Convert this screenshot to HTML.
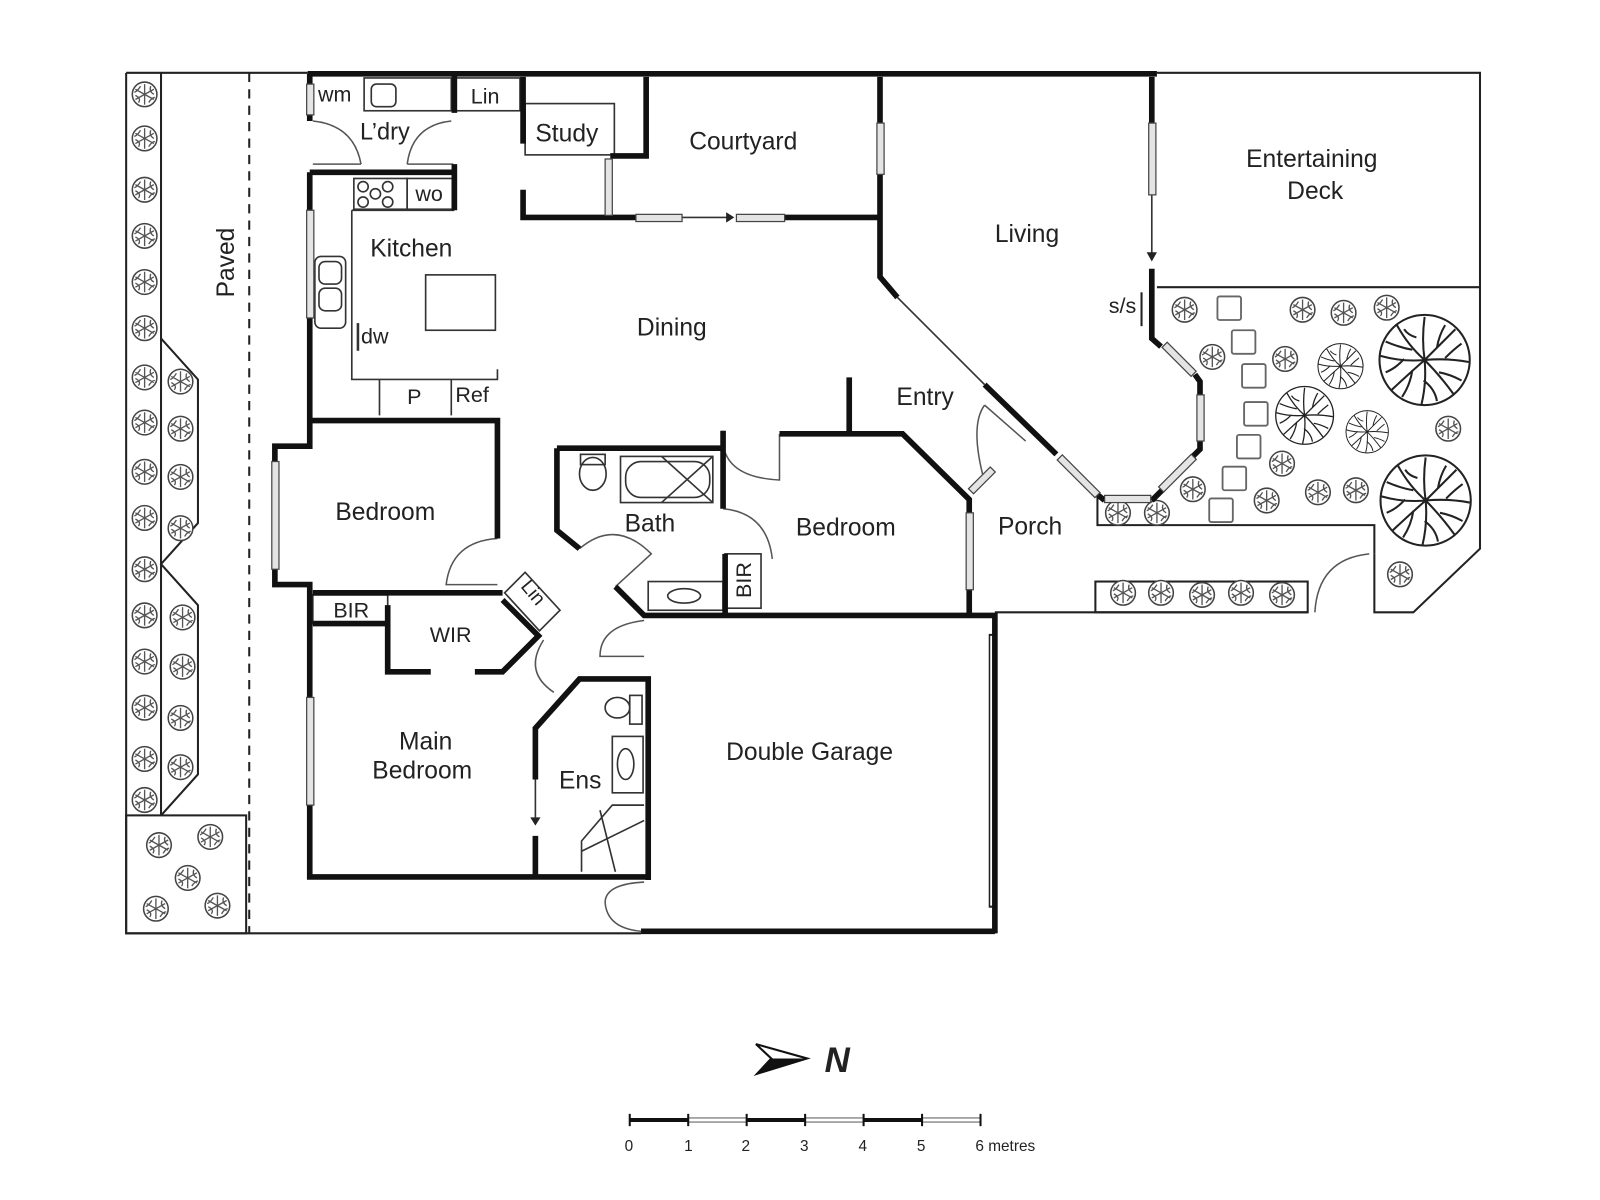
<!DOCTYPE html>
<html><head><meta charset="utf-8"><style>
html,body{margin:0;padding:0;background:#fff;}
svg{display:block;}
text{font-family:"Liberation Sans",sans-serif;fill:#222;}
</style></head><body>
<svg width="1600" height="1200" viewBox="0 0 1560 1170" xmlns="http://www.w3.org/2000/svg">
<defs>
<g id="t">
<circle r="12" fill="#fff" stroke="#444" stroke-width="1.5"/>
<g stroke="#555" stroke-width="1.3" fill="none">
<path d="M0 0 L0 -10 M0 0 L9 -5 M0 0 L9 5 M0 0 L0 10 M0 0 L-9 5 M0 0 L-9 -5 M-4 -8 Q-7 -3 -10 -2 M6 -8 Q4 -3 9 0 M4 8 Q7 3 10 3 M-6 8 Q-3 4 -9 1"/>
</g>
</g>
<g id="T">
<circle r="44" fill="#fff" stroke="#222" stroke-width="2"/>
<g stroke="#222" stroke-width="2" fill="none">
<path d="M0 0 Q-3 -20 0 -42 M0 0 Q15 -15 30 -30 M0 0 Q22 -2 43 2 M0 0 Q15 15 28 33 M0 0 Q2 22 -3 43 M0 0 Q-16 14 -32 29 M0 0 Q-22 2 -43 -4 M0 0 Q-16 -14 -27 -34 M-8 -22 Q-16 -24 -20 -30 M12 -12 Q14 -24 20 -34 M20 -2 Q28 -10 36 -16 M14 12 Q25 14 36 20 M-1 20 Q10 28 12 40 M-12 10 Q-14 24 -22 36 M-20 -1 Q-28 8 -38 12 M-12 -10 Q-24 -12 -38 -18"/>
</g>
</g>
</defs>

<g fill="none" stroke="#222" stroke-width="2">
<path d="M1128 71 L1443 71 L1443 535 L1378 597 L1340 597 L1340 540"/>
<path d="M123 71 L300 71 M123 71 L123 910 L625 910"/>
<line x1="157" y1="71" x2="157" y2="795"/>
<line x1="243" y1="71" x2="243" y2="910" stroke-dasharray="9,7"/>
<path d="M157 330 L193 370 L193 510 L157 550 L193 590 L193 755 L157 795"/>
<rect x="123" y="795" width="117" height="115"/>
<path d="M1128 280 L1443 280"/>
<path d="M1070 485 L1070 512 L1340 512 L1340 540"/>
<path d="M970 597 L1275 597"/>
<rect x="1068" y="567" width="207" height="30"/>
</g>

<g>
<use href="#t" x="141" y="92"/><use href="#t" x="141" y="135"/><use href="#t" x="141" y="185"/><use href="#t" x="141" y="230"/><use href="#t" x="141" y="275"/><use href="#t" x="141" y="320"/><use href="#t" x="141" y="368"/><use href="#t" x="141" y="412"/><use href="#t" x="141" y="460"/><use href="#t" x="141" y="505"/><use href="#t" x="141" y="555"/><use href="#t" x="141" y="600"/><use href="#t" x="141" y="645"/><use href="#t" x="141" y="690"/><use href="#t" x="141" y="740"/><use href="#t" x="141" y="780"/>
<use href="#t" x="176" y="372"/><use href="#t" x="176" y="418"/><use href="#t" x="176" y="465"/><use href="#t" x="176" y="515"/><use href="#t" x="178" y="602"/><use href="#t" x="178" y="650"/><use href="#t" x="176" y="700"/><use href="#t" x="176" y="748"/>
<use href="#t" x="155" y="824"/><use href="#t" x="205" y="816"/><use href="#t" x="183" y="856"/><use href="#t" x="152" y="886"/><use href="#t" x="212" y="883"/>
<use href="#t" x="1155" y="302"/><use href="#t" x="1270" y="302"/><use href="#t" x="1310" y="305"/><use href="#t" x="1352" y="300"/><use href="#t" x="1182" y="348"/><use href="#t" x="1253" y="350"/><use href="#t" x="1412" y="418"/><use href="#t" x="1250" y="452"/><use href="#t" x="1163" y="477"/><use href="#t" x="1235" y="488"/><use href="#t" x="1285" y="480"/><use href="#t" x="1322" y="478"/><use href="#t" x="1090" y="500"/><use href="#t" x="1128" y="500"/><use href="#t" x="1365" y="560"/>
<use href="#t" x="1095" y="578"/><use href="#t" x="1132" y="578"/><use href="#t" x="1172" y="580"/><use href="#t" x="1210" y="578"/><use href="#t" x="1250" y="580"/>
<use href="#T" x="1389" y="351"/><use href="#T" x="1390" y="488"/>
<use href="#T" x="0" y="0" transform="translate(1272 405) scale(0.64)"/>
<use href="#T" x="0" y="0" transform="translate(1307 357) scale(0.5)"/>
<use href="#T" x="0" y="0" transform="translate(1333 421) scale(0.47)"/>
</g>
<g fill="#fff" stroke="#666" stroke-width="1.8">
<rect x="1187" y="289" width="23" height="23" rx="2"/><rect x="1201" y="322" width="23" height="23" rx="2"/><rect x="1211" y="355" width="23" height="23" rx="2"/><rect x="1213" y="392" width="23" height="23" rx="2"/><rect x="1206" y="424" width="23" height="23" rx="2"/><rect x="1192" y="455" width="23" height="23" rx="2"/><rect x="1179" y="486" width="23" height="23" rx="2"/>
</g>

<g fill="none" stroke="#333" stroke-width="1.6">
<rect x="355" y="76" width="85" height="32"/>
<rect x="362" y="82" width="24" height="22" rx="5"/>
<rect x="443" y="76" width="64" height="32"/>
<rect x="512" y="101" width="87" height="50"/>
<rect x="345" y="174" width="52" height="30"/>
<circle cx="354" cy="182" r="5"/><circle cx="366" cy="189" r="5"/><circle cx="378" cy="182" r="5"/><circle cx="354" cy="197" r="5"/><circle cx="378" cy="197" r="5"/>
<rect x="397" y="174" width="44" height="30"/>
<path d="M343 205 L443 205 M343 205 L343 370 L485 370 L485 360"/>
<rect x="307" y="250" width="30" height="70" rx="6"/>
<rect x="311" y="255" width="22" height="22" rx="6"/><rect x="311" y="281" width="22" height="22" rx="6"/>
<rect x="415" y="268" width="68" height="54"/>
<path d="M370 370 L370 405 M440 370 L440 405"/>
<line x1="349" y1="315" x2="349" y2="342" stroke-width="2.5"/>
<rect x="305" y="580" width="73" height="28"/>
<polygon points="492,578 512,558 546,595 526,615" fill="#fff"/>
<rect x="605" y="445" width="90" height="45"/>
<rect x="610" y="450" width="82" height="35" rx="15"/>
<path d="M645 445 L695 490 M695 445 L645 490"/>
<ellipse cx="578" cy="462" rx="13" ry="16"/>
<rect x="566" y="443" width="24" height="10"/>
<rect x="632" y="567" width="73" height="28"/>
<ellipse cx="667" cy="581" rx="16" ry="7"/>
<rect x="707" y="540" width="35" height="53"/>
<rect x="597" y="718" width="30" height="55"/>
<ellipse cx="610" cy="745" rx="8" ry="15"/>
<ellipse cx="602" cy="690" rx="12" ry="10"/>
<rect x="614" y="678" width="12" height="28"/>
<path d="M567 850 L567 820 L597 785 L628 785 M567 830 L628 800 M585 790 L600 850"/>
<line x1="967" y1="618" x2="967" y2="885" stroke-width="6" stroke="#222"/>
<line x1="967" y1="620" x2="967" y2="883" stroke-width="3" stroke="#fff"/>
<path d="M875 290 L960 375"/>
<path d="M1123 190 L1123 248"/>
<path d="M665 212 L712 212"/>
<path d="M522 760 L522 797"/>
</g>
<path d="M1118 246 L1128 246 L1123 255Z M708 207 L716 212 L708 217Z M517 797 L527 797 L522 805Z" fill="#222"/>

<g fill="none" stroke="#555" stroke-width="1.5">
<path d="M305 118 Q345 122 352 160 M305 160 L352 160"/>
<path d="M440 118 Q402 122 397 160 M397 160 L442 160"/>
<path d="M485 525 Q440 528 435 570 L485 570"/>
<path d="M565 535 Q600 505 635 540 L600 572"/>
<path d="M705 496 Q748 500 753 545"/>
<path d="M705 420 Q700 465 760 468 L760 423"/>
<path d="M628 605 Q585 610 585 640 L628 640"/>
<path d="M530 624 Q510 655 540 675"/>
<path d="M628 860 Q590 862 590 880 Q592 905 625 908"/>
<path d="M960 395 Q945 415 960 470 M960 395 L1000 430"/>
<path d="M1335 540 Q1285 545 1282 597"/>
</g>

<g fill="none" stroke="#111" stroke-width="5.5" stroke-linejoin="miter">
<path d="M300 72 L1128 72"/>
<path d="M302 72 L302 82 M302 112 L302 118"/>
<path d="M443 74 L443 110 M443 160 L443 205"/>
<path d="M302 168 L443 168"/>
<path d="M302 168 L302 205 M302 310 L302 410 L302 435 L268 435 L268 450 M268 555 L268 570 L302 570 L302 680 M302 785 L302 855 L632 855"/>
<path d="M302 410 L485 410 L485 525"/>
<path d="M305 578 L490 578"/>
<path d="M305 608 L378 608"/>
<path d="M378 590 L378 655 L420 655 M463 655 L490 655 L525 620 L490 585"/>
<path d="M510 75 L510 140 M510 185 L510 212 L620 212 M765 212 L858 212"/>
<path d="M630 75 L630 152 L595 152"/>
<path d="M858 75 L858 120 M858 170 L858 270 L875 290"/>
<path d="M960 375 L1030 443"/>
<path d="M1123 75 L1123 120"/>
<path d="M1123 262 L1123 330 L1132 338 M1165 365 L1170 372 L1170 385 M1170 430 L1170 438 L1162 446 M1135 476 L1123 488 M1077 488 L1065 478"/>
<path d="M543 437 L705 437 M705 420 L705 496 M543 437 L543 517 L565 535"/>
<path d="M600 572 L628 600 L970 600 L970 910 M625 908 L970 908"/>
<path d="M707 540 L707 600"/>
<path d="M828 368 L828 423 M760 423 L880 423 L945 487 L945 500 M945 575 L945 600"/>
<path d="M522 855 L522 815 M522 760 L522 710 L565 662 L632 662 L632 858"/>
</g>

<g fill="#e4e4e4" stroke="#444" stroke-width="1.2">
<rect x="299" y="82" width="7" height="30"/>
<rect x="299" y="205" width="7" height="105"/>
<rect x="265" y="450" width="7" height="105"/>
<rect x="299" y="680" width="7" height="105"/>
<rect x="590" y="155" width="7" height="55"/>
<rect x="620" y="209" width="45" height="7"/>
<rect x="718" y="209" width="47" height="7"/>
<rect x="855" y="120" width="7" height="50"/>
<rect x="1120" y="120" width="7" height="70"/>
<rect x="942" y="500" width="7" height="75"/>
<rect x="1167" y="385" width="7" height="45"/>
<rect x="1077" y="483" width="45" height="7"/>
<rect x="1130" y="347" width="40" height="7" transform="rotate(45 1150 350)"/>
<rect x="1126" y="458" width="45" height="7" transform="rotate(-45 1148 462)"/>
<rect x="1026" y="461" width="52" height="7" transform="rotate(45 1052 464)"/>
<rect x="942" y="465" width="30" height="7" transform="rotate(-45 957 468)"/>
</g>
<line x1="1113" y1="285" x2="1113" y2="318" stroke="#222" stroke-width="2"/>

<g font-size="21">
<text x="310" y="99">wm</text>
<text x="351" y="136" font-size="23">L’dry</text>
<text x="459" y="101">Lin</text>
<text x="522" y="138" font-size="24">Study</text>
<text x="672" y="146" font-size="24">Courtyard</text>
<text x="405" y="196">wo</text>
<text x="361" y="250" font-size="24">Kitchen</text>
<text x="352" y="335">dw</text>
<text x="621" y="327" font-size="24">Dining</text>
<text x="397" y="394">P</text>
<text x="444" y="392">Ref</text>
<text x="970" y="236" font-size="24">Living</text>
<text x="1215" y="163" font-size="24">Entertaining</text>
<text x="1255" y="194" font-size="24">Deck</text>
<text x="1081" y="305">s/s</text>
<text x="874" y="395" font-size="24">Entry</text>
<text x="327" y="507" font-size="24">Bedroom</text>
<text x="609" y="518" font-size="24">Bath</text>
<text x="776" y="522" font-size="24">Bedroom</text>
<text x="973" y="521" font-size="24">Porch</text>
<text x="325" y="602">BIR</text>
<text x="419" y="626">WIR</text>
<text x="0" y="0" transform="translate(732 583) rotate(-90)">BIR</text>
<text x="0" y="0" font-size="19" transform="translate(507 572) rotate(50)">Lin</text>
<text x="389" y="731" font-size="24">Main</text>
<text x="363" y="759" font-size="24">Bedroom</text>
<text x="545" y="769" font-size="24">Ens</text>
<text x="708" y="741" font-size="24">Double Garage</text>
<text x="0" y="0" transform="translate(228 290) rotate(-90)" font-size="24">Paved</text>
</g>

<path d="M737 1018 L787 1032 L738 1047 L752 1032 Z" fill="#fff" stroke="#111" stroke-width="2"/>
<path d="M738 1047 L787 1032 L752 1032 Z" fill="#111"/>
<text x="804" y="1045" font-size="34" font-weight="bold" font-style="italic">N</text>

<g stroke-width="4">
<line x1="614" y1="1092" x2="671" y2="1092" stroke="#111"/>
<line x1="728" y1="1092" x2="785" y2="1092" stroke="#111"/>
<line x1="842" y1="1092" x2="899" y2="1092" stroke="#111"/>
</g>
<g fill="none" stroke="#777" stroke-width="1.2">
<rect x="671" y="1090" width="57" height="4"/><rect x="785" y="1090" width="57" height="4"/><rect x="899" y="1090" width="57" height="4"/>
</g>
<g stroke="#111" stroke-width="2">
<line x1="614" y1="1086" x2="614" y2="1098"/><line x1="671" y1="1086" x2="671" y2="1098"/><line x1="728" y1="1086" x2="728" y2="1098"/><line x1="785" y1="1086" x2="785" y2="1098"/><line x1="842" y1="1086" x2="842" y2="1098"/><line x1="899" y1="1086" x2="899" y2="1098"/><line x1="956" y1="1086" x2="956" y2="1098"/>
</g>
<g font-size="15">
<text x="609" y="1122">0</text><text x="667" y="1122">1</text><text x="723" y="1122">2</text><text x="780" y="1122">3</text><text x="837" y="1122">4</text><text x="894" y="1122">5</text><text x="951" y="1122">6 metres</text>
</g>
</svg>
</body></html>
